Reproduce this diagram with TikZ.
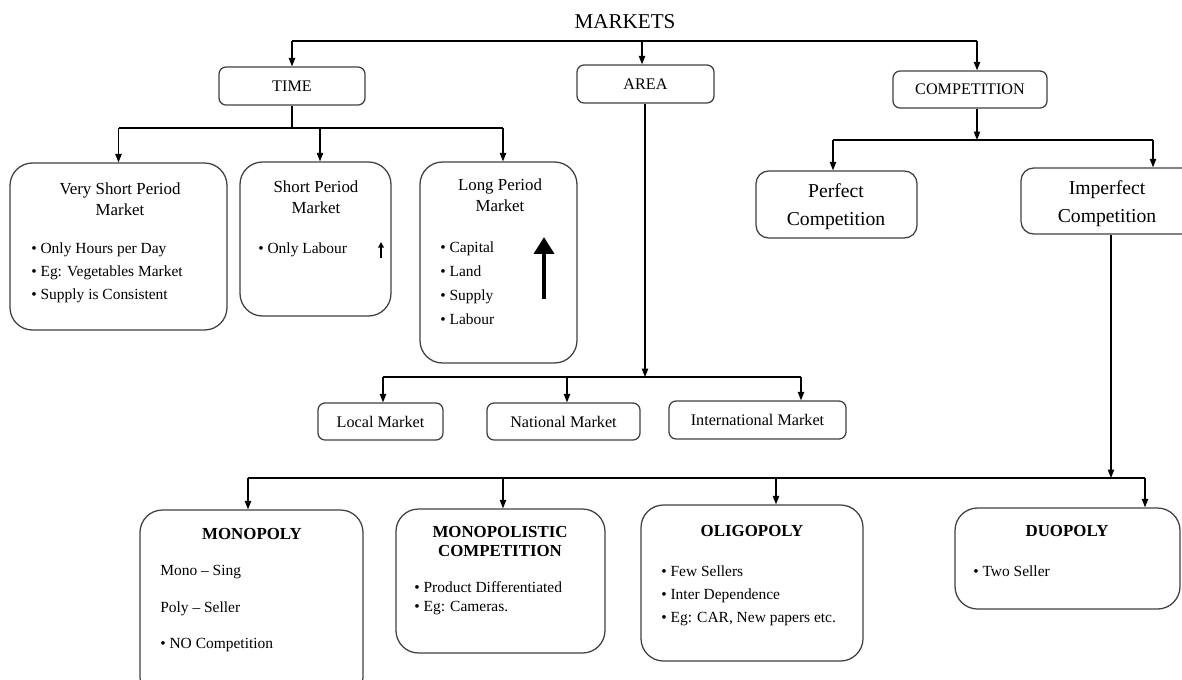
\documentclass[tikz,border=0pt]{standalone}
\usepackage{fontspec}
\setmainfont{Liberation Serif}
\usetikzlibrary{arrows.meta,fit}

\begin{document}
\begin{tikzpicture}[x=0.025cm, y=-0.025cm,
    bigbox/.style={draw=black!75, line width=0.9pt, rounded corners=16pt, inner sep=0pt},
    smallbox/.style={draw=black!75, line width=0.9pt, rounded corners=5pt, inner sep=0pt, label={[font=\fontsize{11.5}{13}\selectfont]center:#1}},
    link/.style={line width=0.9pt},
    arr/.style={line width=0.9pt, -{Triangle[length=6pt,width=4.5pt]}},
    headtext/.style={font=\fontsize{12}{15}\selectfont, align=center},
    listtext/.style={font=\fontsize{11}{16.5}\selectfont, align=left, anchor=north west, inner sep=0pt}]
\useasboundingbox (0,0) rectangle (1182,679);
\clip (0,0) rectangle (1182,679);

% top level
\node[font=\fontsize{15}{18}\selectfont] (markets) at (625,22) {MARKETS};
\node[smallbox=TIME, fit={(219,67) (365,105)}] (time) {};
\node[smallbox=AREA, fit={(577,65) (714,103)}] (area) {};
\node[smallbox=COMPETITION, fit={(893,71) (1047,108)}] (comp) {};

\coordinate (bus1) at (642,41);
\draw[link] (bus1 -| time) -- (bus1 -| 977,0);
\draw[arr] (bus1 -| time) -- (time.north);
\draw[arr] (bus1) -- (area.north -| bus1);
\draw[arr] (bus1 -| 977,0) -- (comp.north -| 977,0);

% time
\node[bigbox, fit={(10,163) (227,330)}] (vsp) {};
\node[bigbox, fit={(240,162) (391,316)}] (sp) {};
\node[bigbox, fit={(420,162) (577,363)}] (lp) {};
\node[headtext] (vsphead) at (120,199) {Very Short Period\\Market};
\node[headtext] (sphead) at (316,197) {Short Period\\Market};
\node[headtext] (lphead) at (500,195) {Long Period\\Market};
\node[listtext] (vsplist) at (31,242) {\textbullet\ Only Hours per Day\\\textbullet\ Eg: Vegetables Market\\\textbullet\ Supply is Consistent};
\node[listtext] (splist) at (258,242) {\textbullet\ Only Labour};
\node[listtext, font=\fontsize{11}{17.2}\selectfont] (lplist) at (440,241) {\textbullet\ Capital\\\textbullet\ Land\\\textbullet\ Supply\\\textbullet\ Labour};
\coordinate (spup) at (381,258);
\draw[line width=1pt, -{Triangle[length=4pt,width=4pt]}] (spup) -- ++(0,-16);
\coordinate (lpup) at (544,299);
\draw[line width=3.5pt, -{Triangle[length=12pt,width=14pt]}] (lpup) -- ++(0,-62);

\coordinate (bus2) at (292,128);
\draw[link] (time.south) -- (bus2);
\draw[link] (bus2 -| vsp) -- (bus2 -| 503,0);
\draw[arr] (bus2 -| vsp) -- (vsp.north);
\draw[arr] (bus2 -| 320,0) -- (sp.north -| 320,0);
\draw[arr] (bus2 -| 503,0) -- (lp.north -| 503,0);

% area
\node[smallbox=Local Market, fit={(318,403) (443,440)}] (local) {};
\node[smallbox=National Market, fit={(487,403) (640,440)}] (national) {};
\node[smallbox=International Market, fit={(669,401) (846,439)}] (intl) {};
\coordinate (bus3) at (645,377);
\draw[arr] (area.south -| bus3) -- (bus3);
\draw[link] (bus3 -| 383,0) -- (bus3 -| 801,0);
\draw[arr] (bus3 -| 383,0) -- (local.north -| 383,0);
\draw[arr] (bus3 -| 567,0) -- (national.north -| 567,0);
\draw[arr] (bus3 -| 801,0) -- (intl.north -| 801,0);

% competition
\node[smallbox=, rounded corners=9pt, fit={(756,171) (917,238)}] (perfect) {};
\node[smallbox=, rounded corners=9pt, fit={(1021,168) (1195,234)}] (imperfect) {};
\node[align=center, font=\fontsize{14}{20}\selectfont] (perftext) at (836,207) {Perfect\\Competition};
\node[align=center, font=\fontsize{14}{20}\selectfont] (imptext) at (1107,204) {Imperfect\\Competition};
\coordinate (bus4) at (977,140);
\draw[arr] (comp.south -| bus4) -- (bus4);
\draw[link] (bus4 -| 833,0) -- (bus4 -| 1153,0);
\draw[arr] (bus4 -| 833,0) -- (perfect.north -| 833,0);
\draw[arr] (bus4 -| 1153,0) -- (imperfect.north -| 1153,0);

% imperfect competition
\node[bigbox, fit={(140,510) (363,700)}] (mono) {};
\node[bigbox, fit={(396,509) (605,653)}] (monocomp) {};
\node[bigbox, fit={(641,505) (863,661)}] (oligo) {};
\node[bigbox, fit={(955,508) (1180,609)}] (duo) {};
\node[headtext, font=\bfseries\fontsize{12}{13.5}\selectfont] (monohead) at (252,534) {MONOPOLY};
\node[headtext, font=\bfseries\fontsize{12}{13.5}\selectfont] (monocomphead) at (500,541) {MONOPOLISTIC\\COMPETITION};
\node[headtext, font=\bfseries\fontsize{12}{13.5}\selectfont] (oligohead) at (752,531) {OLIGOPOLY};
\node[headtext, font=\bfseries\fontsize{12}{13.5}\selectfont] (duohead) at (1067,531) {DUOPOLY};
\node[listtext, font=\fontsize{11}{26}\selectfont] (monolist) at (160,565) {Mono -- Sing\\Poly -- Seller\\\textbullet\ NO Competition};
\node[listtext, font=\fontsize{11}{13.6}\selectfont] (monocomplist) at (414,581) {\textbullet\ Product Differentiated\\\textbullet\ Eg: Cameras.};
\node[listtext] (oligolist) at (661,565) {\textbullet\ Few Sellers\\\textbullet\ Inter Dependence\\\textbullet\ Eg: CAR, New papers etc.};
\node[listtext] (duolist) at (973,565) {\textbullet\ Two Seller};

\coordinate (bus5) at (1111,478);
\draw[arr] (imperfect.south -| bus5) -- (bus5);
\draw[link] (bus5 -| 248,0) -- (bus5 -| 1145,0);
\draw[arr] (bus5 -| 248,0) -- (mono.north -| 248,0);
\draw[arr] (bus5 -| 503,0) -- (monocomp.north -| 503,0);
\draw[arr] (bus5 -| 776,0) -- (oligo.north -| 776,0);
\draw[arr] (bus5 -| 1145,0) -- (duo.north -| 1145,0);
\end{tikzpicture}
\end{document}
